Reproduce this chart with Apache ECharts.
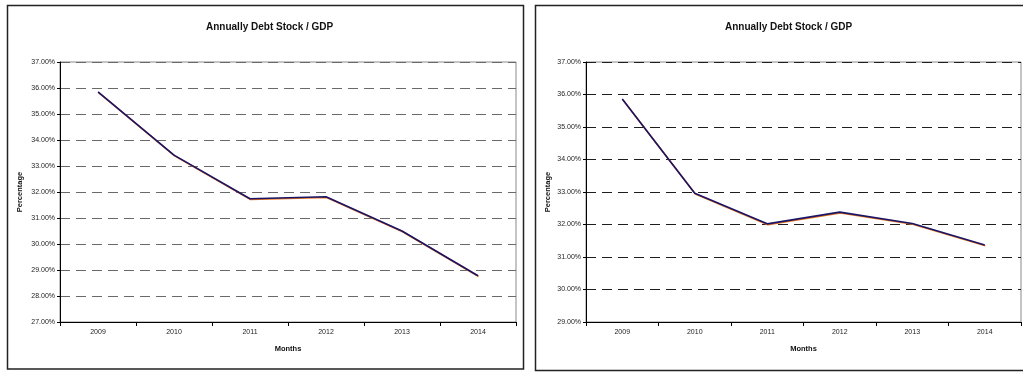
<!DOCTYPE html>
<html>
<head>
<meta charset="utf-8">
<script src="https://cdn.jsdelivr.net/npm/echarts@6/dist/echarts.min.js"></script>
<style>
  html, body { margin: 0; padding: 0; background: #fff; }
  #chart { width: 1023px; height: 372px; }
</style>
</head>
<body>
<div id="chart"></div>
<script>
// Years on the category axis (both panels)
const years = ['2009', '2010', '2011', '2012', '2013', '2014'];

// Debt stock as a share of GDP, in percent
const debtGdpA = [35.85, 33.42, 31.74, 31.82, 30.50, 28.78];
const debtGdpB = [35.86, 32.96, 32.02, 32.38, 32.03, 31.37];

// Value-axis ranges for each panel
const rangeA = { min: 27, max: 37 };
const rangeB = { min: 29, max: 37 };

const titleText = 'Annually Debt Stock / GDP';
const xName = 'Months';
const yName = 'Percentage';

const FONT = '"Liberation Sans", Arial, sans-serif';

function pctLabel(v) { return v.toFixed(2) + '%'; }

function xAxisFor(gridIndex) {
  return {
    type: 'category', gridIndex: gridIndex, data: years, boundaryGap: true,
    name: xName, nameLocation: 'middle', nameGap: 23,
    nameTextStyle: { fontFamily: FONT, fontSize: 7.5, fontWeight: 'bold', color: '#111' },
    axisLine: { show: true, lineStyle: { color: '#000', width: 1 } },
    axisTick: { show: true, inside: false, length: 4, lineStyle: { color: '#000' } },
    axisLabel: { fontFamily: FONT, fontSize: 7, color: '#222', margin: 7 },
    splitLine: { show: false }
  };
}

function yAxisFor(gridIndex, range, gridColor, dash, nameGap) {
  return {
    type: 'value', gridIndex: gridIndex, min: range.min, max: range.max, interval: 1,
    name: yName, nameLocation: 'middle', nameRotate: 90, nameGap: nameGap,
    nameTextStyle: { fontFamily: FONT, fontSize: 7.5, fontWeight: 'bold', color: '#111' },
    axisLine: { show: true, lineStyle: { color: '#000', width: 1 } },
    axisTick: { show: true, inside: false, length: 3, lineStyle: { color: '#000' } },
    axisLabel: { fontFamily: FONT, fontSize: 7, color: '#222', margin: 5, formatter: pctLabel },
    splitLine: { show: true, lineStyle: { color: gridColor, width: 1.2, type: dash } }
  };
}

function lineSeries(idx, values) {
  return {
    type: 'line', xAxisIndex: idx, yAxisIndex: idx, data: values,
    symbol: 'none', smooth: false, animation: false,
    lineStyle: {
      color: '#1a1466', width: 1.6,
      shadowColor: '#e8741e', shadowBlur: 0, shadowOffsetX: 0.6, shadowOffsetY: 0.8
    }
  };
}

const chart = echarts.init(document.getElementById('chart'), null, { renderer: 'canvas' });

chart.setOption({
  backgroundColor: '#fff',
  animation: false,
  title: [
    { text: titleText, left: 201, top: 17,
      textStyle: { fontFamily: FONT, fontSize: 10, fontWeight: 'bold', color: '#111' } },
    { text: titleText, left: 720, top: 17,
      textStyle: { fontFamily: FONT, fontSize: 10, fontWeight: 'bold', color: '#111' } }
  ],
  grid: [
    { left: 60, top: 62, width: 456, height: 260, show: true, borderColor: '#8a8a8a', borderWidth: 1, backgroundColor: 'transparent' },
    { left: 586, top: 62, width: 435, height: 260, show: true, borderColor: '#8a8a8a', borderWidth: 1, backgroundColor: 'transparent' }
  ],
  xAxis: [xAxisFor(0), xAxisFor(1)],
  yAxis: [
    yAxisFor(0, rangeA, '#6a6a6a', [10, 6], 36),
    yAxisFor(1, rangeB, '#1e1e1e', [10, 6], 34)
  ],
  series: [lineSeries(0, debtGdpA), lineSeries(1, debtGdpB)],
  graphic: [
    { type: 'rect', shape: { x: 7.5, y: 5.5, width: 516, height: 363.5 },
      style: { fill: null, stroke: '#222', lineWidth: 1.5 }, silent: true, z: 100 },
    { type: 'rect', shape: { x: 535.5, y: 5.5, width: 500, height: 365 },
      style: { fill: null, stroke: '#222', lineWidth: 1.5 }, silent: true, z: 100 }
  ]
});
</script>
</body>
</html>
